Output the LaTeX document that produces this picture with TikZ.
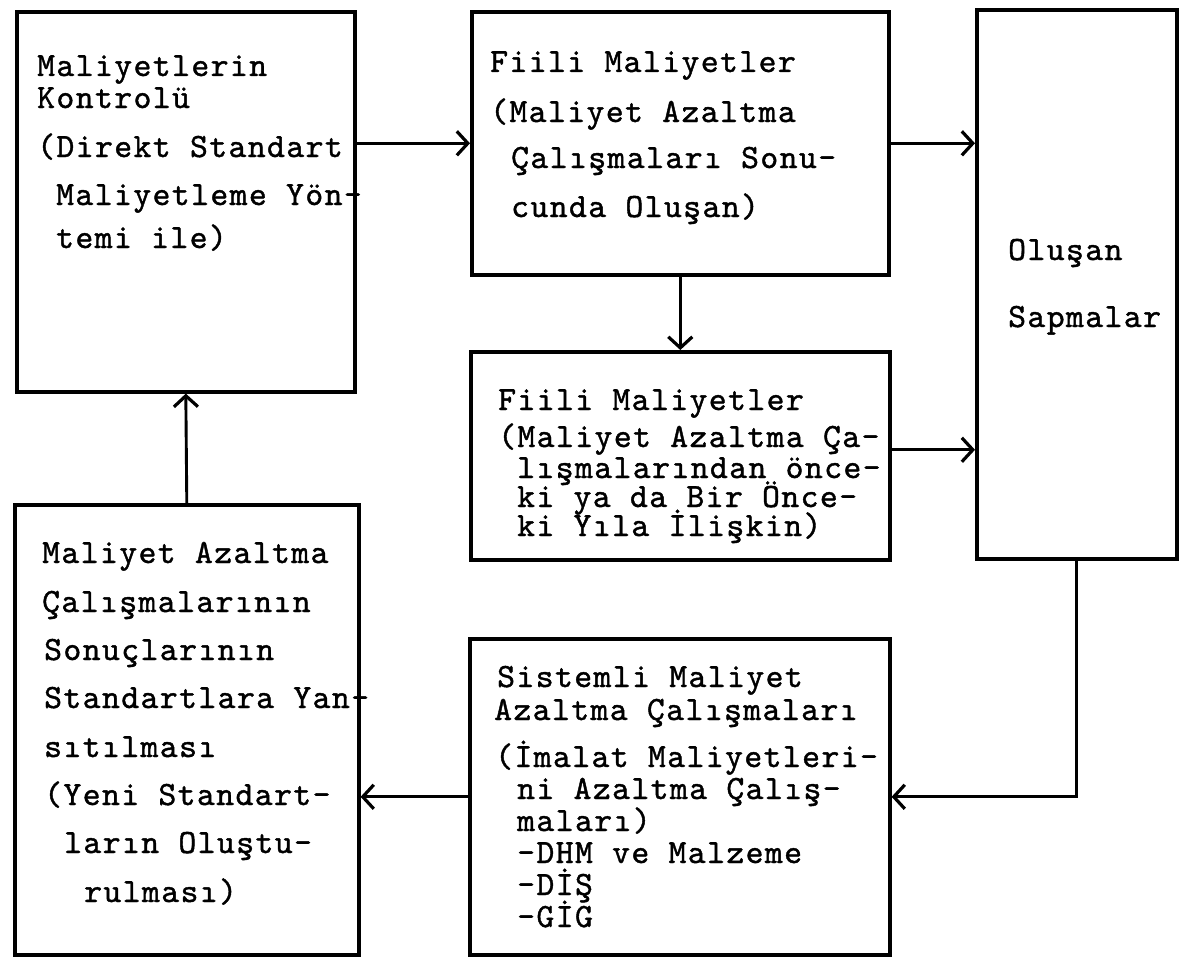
\documentclass[tikz,border=0pt]{standalone}
\usepackage{fontspec}
\usetikzlibrary{arrows.meta}
% typewriter face, slightly emboldened like a ribbon print, 10-pitch spacing
\newfontfamily\typewriter{lmmono10-regular.otf}[FakeBold=1.2, LetterSpace=4.2]
\tikzset{
  frame/.style={draw, line width=3.6pt, inner sep=0pt, anchor=north west},
  conn/.style={line width=2.9pt, -{Straight Barb[length=11pt,width=24pt,line width=3.2pt]}},
  txt/.style={anchor=base west, inner sep=0pt, font=\typewriter\fontsize{34pt}{40pt}\selectfont},
}
\begin{document}
\begin{tikzpicture}[x=1pt,y=-1pt]
\useasboundingbox (0,0) rectangle (1186,958);

% boxes
\node[frame, minimum width=338pt, minimum height=380pt] (b1) at (15,10) {};
\node[frame, minimum width=417pt, minimum height=263pt] (b2) at (470,10) {};
\node[frame, minimum width=419pt, minimum height=208pt] (b3) at (469,350) {};
\node[frame, minimum width=200pt, minimum height=549pt] (b4) at (975,8) {};
\node[frame, minimum width=344pt, minimum height=450pt] (b5) at (13,503) {};
\node[frame, minimum width=420pt, minimum height=316pt] (b6) at (468,637) {};

% box texts, one line each
\foreach \t/\x/\y [count=\i] in {
  {Maliyetlerin}/37/76, {Kontrolü}/37/108, {(Direkt Standart}/37/157,
  {Maliyetleme Yön-}/56/205, {temi ile)}/56/248}
  \node[txt] (k\i) at (\x,\y) {\t};

\foreach \t/\x/\y [count=\i] in {
  {Fiili Maliyetler}/490/72, {(Maliyet Azaltma}/490/122,
  {Çalışmaları Sonu-}/511/168, {cunda Oluşan)}/511/217}
  \node[txt] (f\i) at (\x,\y) {\t};

\foreach \t/\x/\y [count=\i] in {
  {Fiili Maliyetler}/498/410, {(Maliyet Azaltma Ça-}/498/447,
  {lışmalarından önce-}/517/478, {ki ya da Bir Önce-}/517/507,
  {ki Yıla İlişkin)}/517/536}
  \node[txt] (p\i) at (\x,\y) {\t};

\foreach \t/\x/\y [count=\i] in {
  {Oluşan}/1008/260, {Sapmalar}/1008/327}
  \node[txt] (s\i) at (\x,\y) {\t};

\foreach \t/\x/\y [count=\i] in {
  {Maliyet Azaltma}/42/563, {Çalışmalarının}/42/612, {Sonuçlarının}/44/660,
  {Standartlara Yan-}/44/708, {sıtılması}/44/757, {(Yeni Standart-}/44/805,
  {ların Oluştu-}/64/853, {rulması)}/84/902}
  \node[txt] (y\i) at (\x,\y) {\t};

\foreach \t/\x/\y [count=\i] in {
  {Sistemli Maliyet}/497/687, {Azaltma Çalışmaları}/494/720,
  {(İmalat Maliyetleri-}/495/767, {ni Azaltma Çalış-}/517/799,
  {maları)}/517/831, {-DHM ve Malzeme}/517/863, {-DİŞ}/517/895, {-GİG}/517/927}
  \node[txt] (m\i) at (\x,\y) {\t};

% connectors
\draw[conn] (b1.east |- b2.west) -- (b2.west);
\draw[conn] (b2.east) -- (b2.east -| b4.west);
\draw[conn] (b2.south) -- (b3.north);
\draw[conn] ([yshift=6pt]b3.east) -- ([yshift=6pt]b3.east -| b4.west);
\draw[conn] (b4.south) |- (b6.east);
\draw[conn] (b6.west) -- (b6.west -| b5.east);
\draw[conn] (b5.north) -- (b1.south);
\end{tikzpicture}
\end{document}
